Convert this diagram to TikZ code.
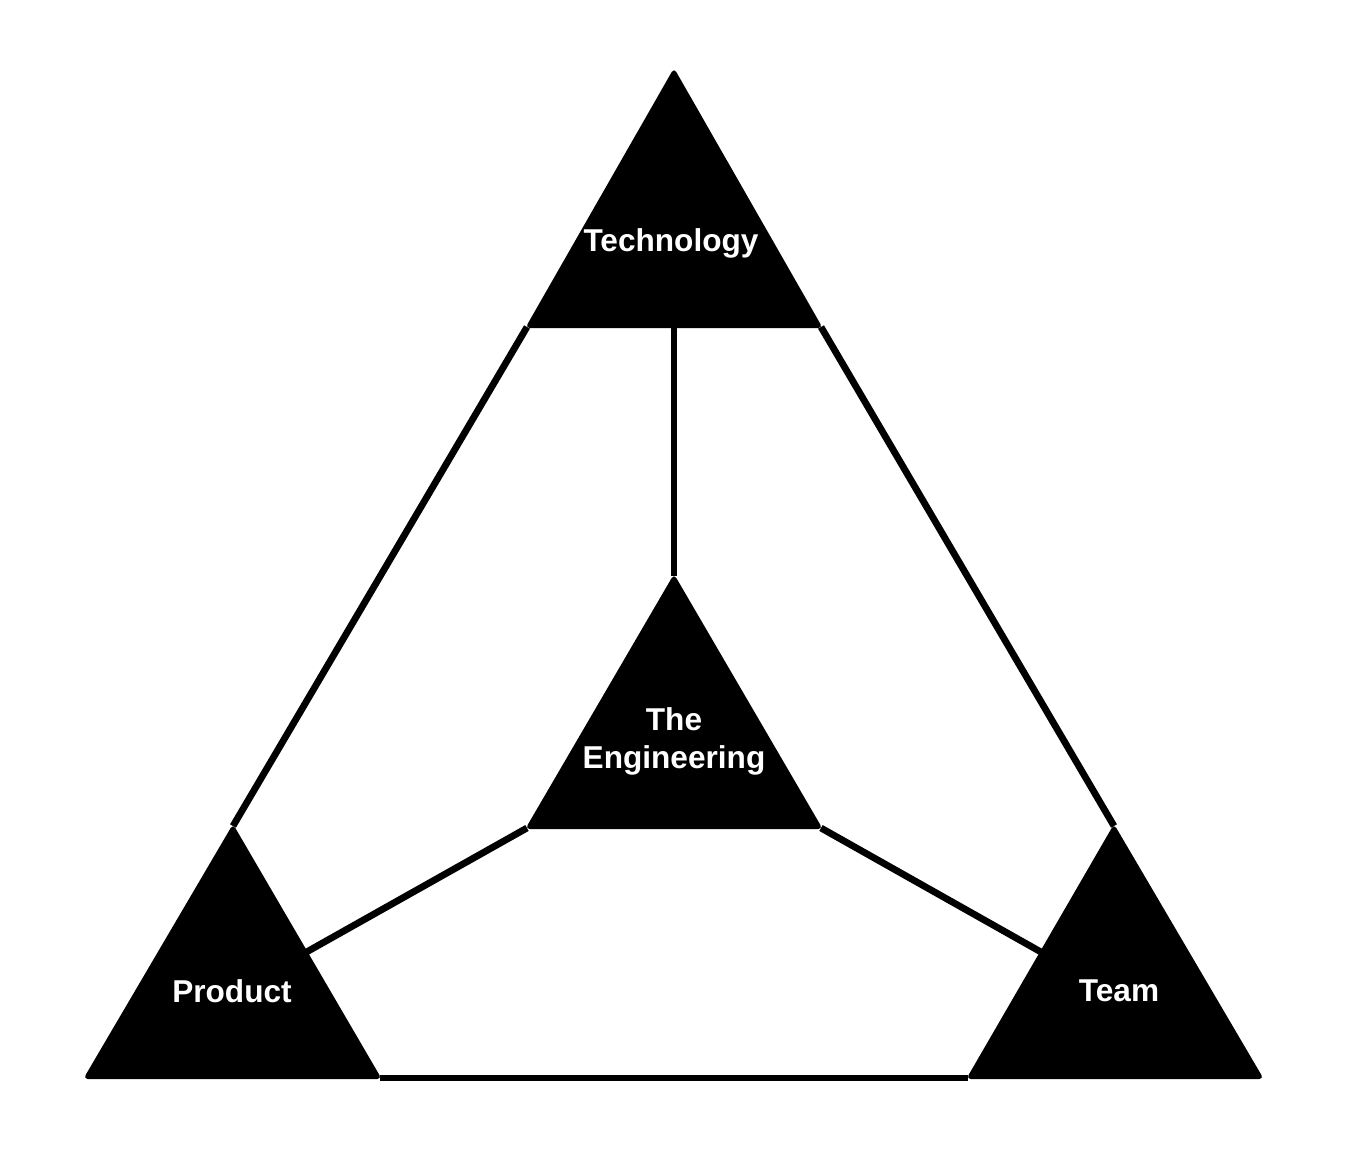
\documentclass[tikz,border=0pt]{standalone}
\usepackage{fontspec}
\setsansfont{Liberation Sans}
\usepackage{tikz}
\usetikzlibrary{positioning, calc}

\begin{document}
\begin{tikzpicture}[
        x=0.5pt, y=-0.5pt,
        edge/.style={draw, line width=3.4pt},
        blocktri/.style={fill=black, draw=black, line width=1pt, rounded corners=1.5pt},
        tritext/.style={text=white, align=center, font=\sffamily\bfseries\fontsize{15.8}{19}\selectfont}
    ]
        \useasboundingbox (0,0) rectangle (1348,1150);

        % corners of the four black triangles
        \coordinate (tec-top) at (674,70);
        \coordinate (tec-l) at (527,327);
        \coordinate (tec-r) at (821,327);
        \coordinate (eng-top) at (674,576);
        \coordinate (eng-l) at (527,828);
        \coordinate (eng-r) at (821,828);
        \coordinate (prd-top) at (233,826);
        \coordinate (prd-l) at (85,1078);
        \coordinate (prd-r) at (380,1078);
        \coordinate (tea-top) at (1114,826);
        \coordinate (tea-l) at (968,1078);
        \coordinate (tea-r) at (1262,1078);

        % outer frame
        \draw[edge] (tec-l) -- (prd-top);
        \draw[edge] (tec-r) -- (tea-top);
        \draw[edge] (prd-r) -- (tea-l);

        % spokes
        \draw[edge] (tec-l -| tec-top) -- (eng-top);
        \draw[edge] (eng-l) -- ($(prd-top)!0.5!(prd-r)$);
        \draw[edge] (eng-r) -- ($(tea-top)!0.5!(tea-l)$);

        \fill[blocktri] (tec-top) -- (tec-r) -- (tec-l) -- cycle;
        \fill[blocktri] (eng-top) -- (eng-r) -- (eng-l) -- cycle;
        \fill[blocktri] (prd-top) -- (prd-r) -- (prd-l) -- cycle;
        \fill[blocktri] (tea-top) -- (tea-r) -- (tea-l) -- cycle;

        \node[tritext] (technology) at (671,243) {Technology};
        \node[tritext] (engineering) at (674,741) {The\\Engineering};
        \node[tritext] (product) at (232,991) {Product};
        \node[tritext] (team) at (1119,991) {Team};
    \end{tikzpicture}
\end{document}
